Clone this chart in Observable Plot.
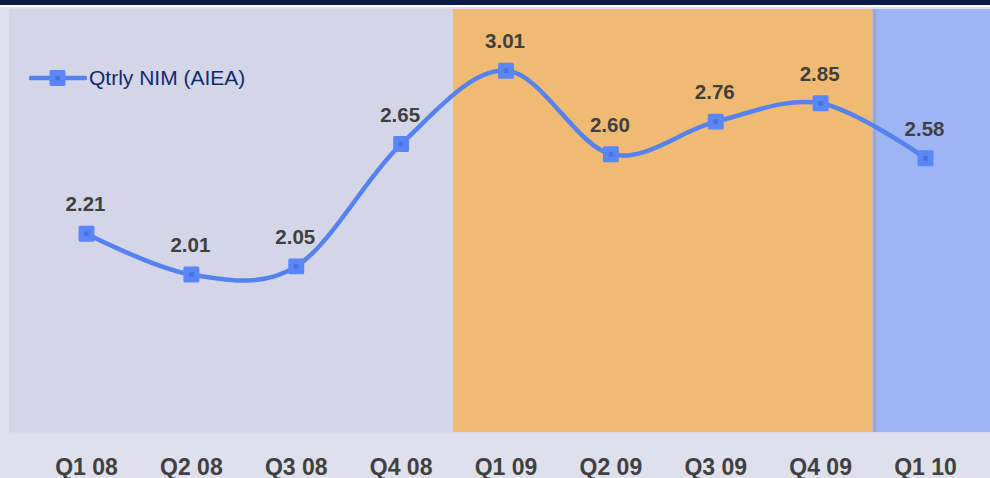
<!DOCTYPE html>
<html>
<head>
<meta charset="utf-8">
<script src="https://cdn.jsdelivr.net/npm/d3@7"></script>
<script src="https://cdn.jsdelivr.net/npm/@observablehq/plot@0.6"></script>
<style>
  html, body { margin: 0; padding: 0; background: #dfe0ec; }
  body { width: 990px; height: 478px; overflow: hidden; font-family: "Liberation Sans", Arial, sans-serif; }
  #wrap { position: relative; width: 990px; height: 478px; }
  #topbar { position: absolute; left: 0; top: 0; width: 990px; height: 5px; background: #0c1a48; border-bottom: 2px solid #ffffff; z-index: 2; }
  #legend { position: absolute; left: 29px; top: 66px; display: flex; align-items: center; z-index: 2;
            font-size: 21px; color: #0f2c6e; font-family: "Liberation Sans", Arial, sans-serif; }
  #legend svg { display: block; margin-right: 2px; }
  svg g[aria-label^="x-axis"] text { font-weight: bold; font-size: 23px; fill: #404040; }
</style>
</head>
<body>
<div id="wrap">
  <div id="topbar"></div>
  <div id="legend"></div>
  <div id="chart"></div>
</div>
<script>
// ---- data ----
const quarters = ["Q1 08", "Q2 08", "Q3 08", "Q4 08", "Q1 09", "Q2 09", "Q3 09", "Q4 09", "Q1 10"];
const nim = [2.21, 2.01, 2.05, 2.65, 3.01, 2.60, 2.76, 2.85, 2.58];
const seriesName = "Qtrly NIM (AIEA)";
const periodStarts = ["Q1 08", "Q1 09", "Q1 10"];
const periodNames = ["2008", "2009", "2010"];

// ---- styles ----
const periodFill = {"2008": "#d4d5e7", "2009": "#efbb74", "2010": "#9db4f5"};
const lineColor = "#5682ee";
const markerColor = "#5a87f7";
const markerCore = "#4a72de";

const data = quarters.map((q, i) => ({i, q, v: nim[i]}));
const n = quarters.length;
const periods = periodNames.map((p, k) => {
  const s = quarters.indexOf(periodStarts[k]);
  const e = k + 1 < periodStarts.length ? quarters.indexOf(periodStarts[k + 1]) : n + 1;
  return {name: p, x1: (k === 0 ? -2 : s - 0.5), x2: e - 0.5};
});
const boundaries = periods.slice(2).map(p => p.x1 + 0.015);

const chart = Plot.plot({
  width: 990,
  height: 478,
  marginLeft: 9,
  marginRight: 0,
  marginTop: 9,
  marginBottom: 46,
  style: {background: "transparent", fontFamily: "Liberation Sans, Arial, sans-serif", overflow: "visible"},
  x: {domain: [0, n - 1], insetLeft: 77, insetRight: 65, ticks: d3.range(n), tickFormat: i => quarters[i], tickSize: 0, tickPadding: 26, label: null},
  y: {domain: [1.235, 3.31], axis: null},
  marks: [
    Plot.frame({fill: periodFill["2008"], stroke: "none"}),
    Plot.rect(periods, {x1: "x1", x2: "x2", y1: 1.235, y2: 3.31, fill: d => periodFill[d.name], clip: true}),
    Plot.ruleX(boundaries, {stroke: "#a2a5c2", strokeWidth: 2.5}),
    Plot.line(data, {x: "i", y: "v", curve: "cardinal", tension: 0, stroke: lineColor, strokeWidth: 4.5}),
    Plot.dot(data, {x: "i", y: "v", symbol: "square", r: 7.3, fill: markerColor, stroke: markerColor, strokeWidth: 3, strokeLinejoin: "round"}),
    Plot.dot(data, {x: "i", y: "v", symbol: "square", r: 2.6, fill: markerCore}),
    Plot.text(data, {x: "i", y: "v", text: d => d.v.toFixed(2), dy: -29, dx: -1, fontSize: 20.5, fontWeight: "bold", fill: "#404040"})
  ]
});
document.getElementById("chart").appendChild(chart);

// legend
const legend = document.getElementById("legend");
legend.innerHTML = `<svg width="58" height="18" viewBox="0 0 58 18">
  <line x1="2" y1="9" x2="56" y2="9" stroke="${lineColor}" stroke-width="4.5" stroke-linecap="round"></line>
  <rect x="22" y="2.5" width="13" height="13" fill="${markerColor}" stroke="${markerColor}" stroke-width="3" stroke-linejoin="round"></rect>
  <rect x="26.2" y="6.7" width="4.6" height="4.6" fill="${markerCore}"></rect>
</svg><span></span>`;
legend.querySelector("span").textContent = seriesName;
</script>
</body>
</html>
